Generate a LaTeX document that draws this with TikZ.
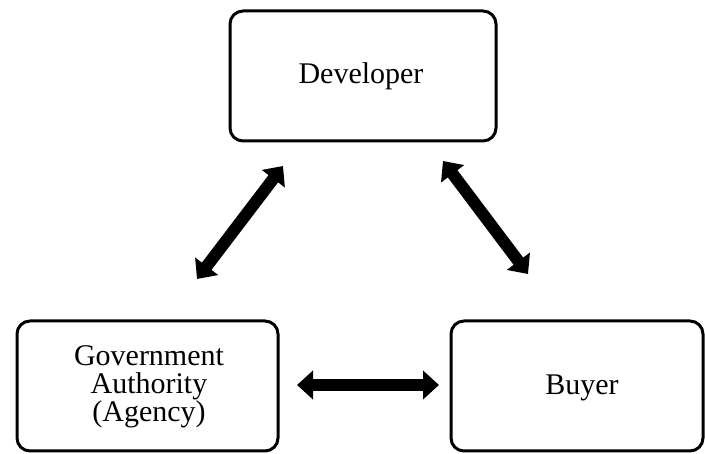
\documentclass[tikz,border=0pt]{standalone}
\usepackage{fontspec}
\setmainfont{Liberation Serif}
\usetikzlibrary{arrows.meta}
\begin{document}
\begin{tikzpicture}[x=1pt,y=-1pt,
  party/.style={draw=black,line width=3pt,rounded corners=13pt,fill=white},
  label/.style={font=\fontsize{30}{28}\selectfont,align=center,inner sep=0pt},
  link/.style={line width=12pt,{Triangle[width=28pt,length=16pt]}-{Triangle[width=28pt,length=16pt]}}]
  \useasboundingbox (0,0) rectangle (705,454);
  % the three parties
  \draw[party] (230,11) rectangle (496,141);
  \draw[party] (17,321) rectangle (278,451);
  \draw[party] (451,321) rectangle (703,451);
  \node[label] (dev) at (361,76) {Developer};
  \node[label] (gov) at (149,387) {Government\\Authority\\(Agency)};
  \node[label] (buy) at (582,388) {Buyer};
  % arrow ends
  \coordinate (gd) at (197,279);
  \coordinate (dg) at (283,166);
  \coordinate (db) at (443,161);
  \coordinate (bd) at (528,274);
  \coordinate (gb) at (297,385);
  \coordinate (bg) at (439,385);
  % two-way relations
  \draw[link] (gd) -- (dg);
  \draw[link] (db) -- (bd);
  \draw[link] (gb) -- (bg);
\end{tikzpicture}
\end{document}
